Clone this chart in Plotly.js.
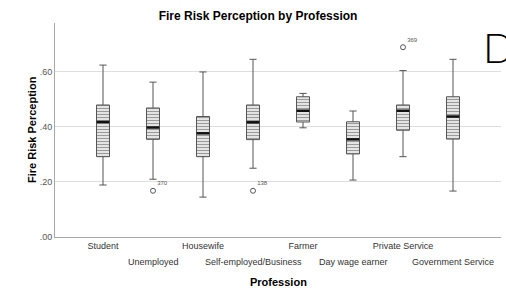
<!DOCTYPE html>
<html><head><meta charset="utf-8">
<script src="https://cdn.plot.ly/plotly-3.0.1.min.js"></script>
<style>html,body{margin:0;padding:0;background:#fff}#chart{width:506px;height:288px}</style>
</head><body><div id="chart"></div>
<script>
const categories = ["Student","Unemployed","Housewife","Self-employed/Business","Farmer","Day wage earner","Private Service","Government Service"];
const lowerWhisker = [0.189, 0.210, 0.145, 0.250, 0.397, 0.207, 0.292, 0.167];
const q1Values     = [0.292, 0.355, 0.292, 0.354, 0.418, 0.302, 0.388, 0.356];
const medianValues = [0.418, 0.398, 0.377, 0.417, 0.459, 0.355, 0.459, 0.438];
const q3Values     = [0.480, 0.469, 0.438, 0.480, 0.510, 0.419, 0.480, 0.510];
const upperWhisker = [0.625, 0.563, 0.600, 0.646, 0.522, 0.458, 0.605, 0.646];
const outlierCats   = ["Unemployed","Self-employed/Business","Private Service"];
const outlierValues = [0.168, 0.168, 0.690];
const outlierLabels = ["370","138","369"];
const yTickVals = [0, 0.2, 0.4, 0.6];
const yTickText = [".00",".20",".40",".60"];

const font = "Liberation Sans, Arial, sans-serif";
const row1 = categories.filter((c,i)=>i%2===0);
const row2 = categories.filter((c,i)=>i%2===1);

const traces = [
  {type:'bar', x:categories, base:q1Values, y:q3Values.map((v,i)=>v-q1Values[i]), width:0.26,
   marker:{color:'#e4e4e4', line:{width:0}, pattern:{shape:'-', fgcolor:'#9a9a9a', bgcolor:'#e4e4e4', size:3, solidity:0.35}},
   hoverinfo:'skip', showlegend:false},
  {type:'box', x:categories, q1:q1Values, median:medianValues, q3:q3Values,
   lowerfence:lowerWhisker, upperfence:upperWhisker, width:0.26, whiskerwidth:0.55,
   fillcolor:'rgba(0,0,0,0)', line:{color:'#555555', width:1}, boxpoints:false, showlegend:false},
  {type:'scatter', mode:'markers', x:categories, y:medianValues,
   marker:{symbol:'line-ew', size:9, line:{color:'#111111', width:2.5}}, showlegend:false, hoverinfo:'skip'},
  {type:'scatter', mode:'markers+text', x:outlierCats, y:outlierValues, text:outlierLabels,
   textposition:'top right', textfont:{family:font, size:6, color:'#555'},
   marker:{symbol:'circle-open', size:5, color:'#555', line:{width:1}}, showlegend:false}
];

const annotations = row2.map(c=>({x:c, xref:'x', y:0, yref:'paper', yanchor:'middle', yshift:-25,
   text:c, showarrow:false, font:{family:font, size:9, color:'#333'}}));
annotations.push({x:0.5, xref:'paper', y:0, yref:'paper', yanchor:'middle', yshift:-44.7,
   text:'<b>Profession</b>', showarrow:false, font:{family:font, size:11, color:'#000'}});
annotations.push({x:0, xref:'paper', xshift:-31, y:0.5, yref:'paper', textangle:-90,
   text:'<b>Fire Risk Perception</b>', showarrow:false, font:{family:font, size:11, color:'#000'}});
annotations.push({x:(481-55)/446, xref:'paper', xanchor:'left', y:(237-48)/214, yref:'paper', yanchor:'middle',
   showarrow:false, text:'D', font:{family:'Lato, Open Sans, sans-serif', size:41, color:'#000', weight:300}});

const layout = {
  width:506, height:288, margin:{l:55, r:5, t:23, b:51},
  paper_bgcolor:'#fff', plot_bgcolor:'#fff', showlegend:false, bargap:0,
  title:{text:'<b>Fire Risk Perception by Profession</b>', x:0.51, xanchor:'center', y:0.945, yanchor:'middle',
         font:{family:font, size:12, color:'#000'}},
  xaxis:{type:'category', categoryarray:categories, range:[-0.96, 7.96], tickvals:row1, ticktext:row1,
         showgrid:false, zeroline:false, showline:true, linecolor:'#a8a8a8', linewidth:1, ticks:'',
         tickfont:{family:font, size:9, color:'#333'}},
  yaxis:{range:[0, 0.778], tickvals:yTickVals, ticktext:yTickText, showgrid:true, gridcolor:'#dedede',
         zeroline:false, showline:true, linecolor:'#a8a8a8', linewidth:1, ticks:'',
         tickfont:{family:font, size:9, color:'#555'}},
  annotations:annotations
};
Plotly.newPlot('chart', traces, layout, {displayModeBar:false, staticPlot:true});
</script></body></html>
